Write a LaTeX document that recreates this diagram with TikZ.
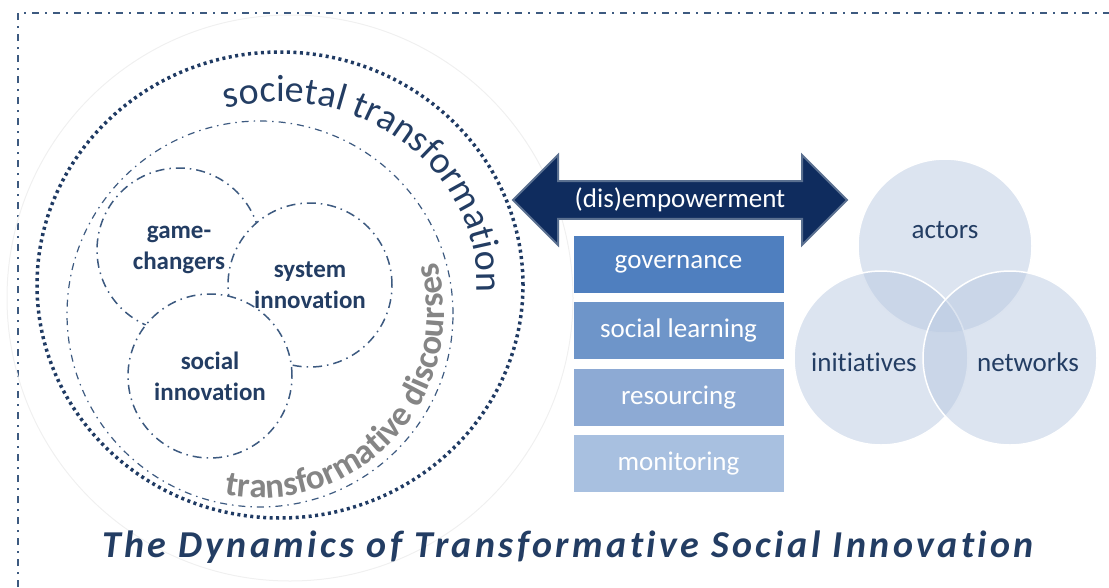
\documentclass[tikz,border=0pt]{standalone}
\usepackage{fontspec}
\setmainfont{Carlito}[Ligatures=TeX, RawFeature={-liga;-clig;-calt;-dlig}]
\usepackage{tikz}
\usetikzlibrary{shapes.arrows,positioning,decorations.text}

\definecolor{tnavy}{HTML}{233D63}
\definecolor{dotcol}{HTML}{1F3A63}
\definecolor{ringcol}{HTML}{3D5A80}
\definecolor{arrowcol}{HTML}{0F2C5E}
\definecolor{arrowedge}{HTML}{5A7090}
\definecolor{govcol}{HTML}{4F7FBF}
\definecolor{soccol}{HTML}{6E95C9}
\definecolor{rescol}{HTML}{8DAAD4}
\definecolor{moncol}{HTML}{A8C0E0}
\definecolor{venncol}{RGB}{185,201,225}
\definecolor{tgray}{HTML}{858585}

\begin{document}
\begin{tikzpicture}[x=1pt, y=1pt,
    ring/.style={circle, draw=ringcol, line width=1.5pt, fill=white, minimum size=164pt, inner sep=0pt,
        align=center, text=tnavy, font=\fontsize{25}{31}\selectfont\bfseries,
        dash pattern=on 9pt off 5pt on 1.5pt off 5pt},
    box/.style={rectangle, minimum width=210pt, minimum height=57pt, inner sep=0pt,
        text=white, font=\fontsize{27}{32}\selectfont},
    venn/.style={circle, draw=white, line width=1.5pt, fill=venncol, fill opacity=0.5,
        minimum size=174pt, inner sep=0pt},
    vlabel/.style={text=tnavy, font=\fontsize{27}{32}\selectfont},
    frame/.style={draw=ringcol, line width=1.5pt, dash pattern=on 7pt off 6pt on 2pt off 6pt}
]
\useasboundingbox (0,-587) rectangle (1109,0);

% frame and rings
\draw[frame] (18,-587) -- (18,-13) -- (1109,-13);
\draw[black!6, line width=1pt] (290,-298) circle[radius=283];
\draw[dotcol, line width=3.5pt, dash pattern=on 3pt off 3.5pt] (280,-285) ellipse[x radius=243, y radius=233];
\draw[ringcol, line width=1.2pt, dash pattern=on 7pt off 5pt on 1.5pt off 5pt] (260,-314) circle[radius=193];

% curved texts
\path[decorate, decoration={text along path, text color=tnavy,
    text={|\fontsize{38}{40}\selectfont|societal transformation}}]
    (280,-285) ++(106:197 and 183) arc[start angle=106, end angle=-20, x radius=197, y radius=183];
\path[decorate, decoration={text along path, text color=tgray,
    text={|\fontsize{35}{38}\selectfont\bfseries|transformative discourses}}]
    (260,-314) ++(259:184) arc[start angle=259, end angle=400, radius=184];

% inner circles
\node[ring] (game) at (179,-250) {game-\\changers};
\node[ring] (system) at (310,-285) {system\\innovation};
\node[ring] (social) at (210,-376) {social\\innovation};

% arrow and boxes
\node[double arrow, draw=arrowedge, line width=2pt, fill=arrowcol, minimum height=334pt,
    minimum width=90pt, double arrow head extend=18pt, inner sep=0pt, text=white,
    font=\fontsize{27}{32}\selectfont] (power) at (680,-200) {(dis)empowerment};
\node[box, fill=govcol] (gov) at (678.5,-264.5) {governance};
\node[box, fill=soccol, below=9pt of gov] (soc) {social learning};
\node[box, fill=rescol, below=9pt of soc] (res) {resourcing};
\node[box, fill=moncol, below=9pt of res] (mon) {monitoring};

% venn
\node[venn] (actors) at (945,-246) {};
\node[venn] (initiatives) at (881,-358) {};
\node[venn] (networks) at (1010,-358) {};
\node[vlabel] (actorslbl) at (945,-230) {actors};
\node[vlabel] (initiativeslbl) at (864,-362) {initiatives};
\node[vlabel] (networkslbl) at (1028,-362) {networks};

% title
\node[font=\fontsize{38}{40}\selectfont\bfseries\itshape\addfontfeature{LetterSpace=9}, text=tnavy,
    anchor=base] (title) at (568,-557) {The Dynamics of Transformative Social Innovation};
\end{tikzpicture}
\end{document}
